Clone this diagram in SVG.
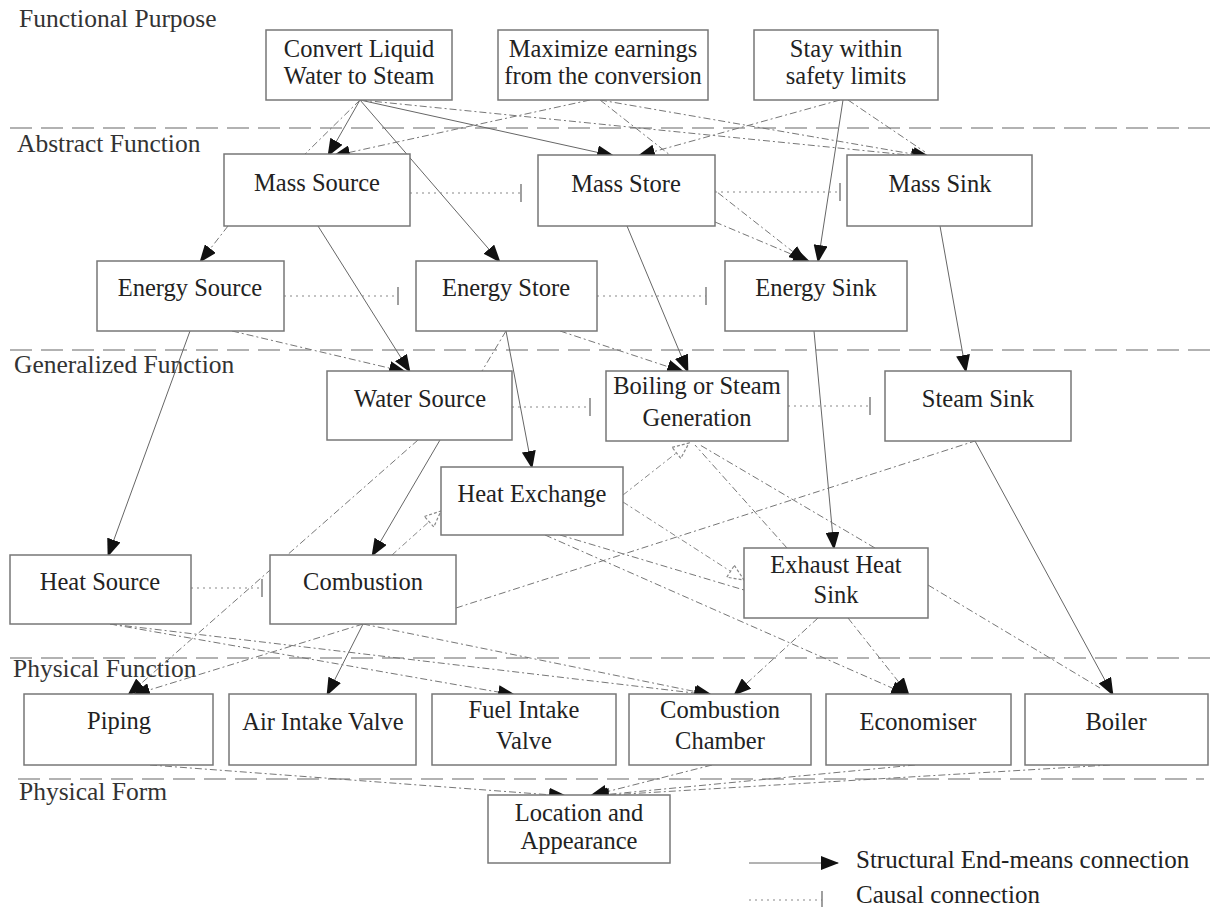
<svg xmlns="http://www.w3.org/2000/svg" width="1214" height="907" viewBox="0 0 1214 907">
<style>
.box{fill:#fff;stroke:#777;stroke-width:1.5}
.t{font-family:"Liberation Serif","Times New Roman",serif;font-size:24.5px;fill:#222;text-anchor:middle}
.layer{font-family:"Liberation Serif","Times New Roman",serif;font-size:25.5px;fill:#333}
.leg{font-family:"Liberation Serif","Times New Roman",serif;font-size:25px;fill:#222}
.sep{stroke:#999;stroke-width:1.4;stroke-dasharray:22 9;fill:none}
.s{stroke:#666;stroke-width:1;fill:none;marker-end:url(#arr)}
.sd{stroke:#777;stroke-width:1;fill:none;stroke-dasharray:7 3 2 3;marker-end:url(#arr)}
.p{stroke:#777;stroke-width:1;fill:none;stroke-dasharray:7 3 2 3}
.c{stroke:#888;stroke-width:1.2;fill:none;stroke-dasharray:2 4;marker-end:url(#bar)}
.h{stroke:#888;stroke-width:1;fill:none;stroke-dasharray:6 3 2 3;marker-end:url(#hol)}
</style>
<defs>
<marker id="arr" viewBox="0 0 18 14" refX="17" refY="7" markerWidth="18" markerHeight="14" orient="auto" markerUnits="userSpaceOnUse"><path d="M0,0 L18,7 L0,14 z" fill="#111"/></marker>
<marker id="bar" viewBox="0 0 4 18" refX="2" refY="9" markerWidth="4" markerHeight="18" orient="auto" markerUnits="userSpaceOnUse"><path d="M2,0 L2,18" stroke="#777" stroke-width="1.4"/></marker>
<marker id="hol" viewBox="0 0 18 16" refX="17" refY="8" markerWidth="18" markerHeight="16" orient="auto" markerUnits="userSpaceOnUse"><path d="M1,1 L17,8 L1,15 z" fill="#fff" stroke="#888" stroke-width="1.2" stroke-dasharray="3 2"/></marker>
</defs>
<rect width="1214" height="907" fill="#fff"/>
<g id="layers">
<path class="sep" d="M10,128 H1214 M10,350 H1214 M10,658 H1214 M18,779 H1204"/>
<text class="layer" x="19" y="27">Functional Purpose</text>
<text class="layer" x="17" y="152">Abstract Function</text>
<text class="layer" x="14" y="373">Generalized Function</text>
<text class="layer" x="13" y="677">Physical Function</text>
<text class="layer" x="19" y="800">Physical Form</text>
</g>
<g id="connectors">
<path class="s" d="M360,100 L328,156"/>
<path class="sd" d="M590,100 L333,156"/>
<path class="s" d="M360,100 L614,156"/>
<path class="sd" d="M840,100 L638,156"/>
<path class="sd" d="M360,100 L928,157"/>
<path class="sd" d="M600,100 L930,157"/>
<path class="p" d="M848,100 L925,152"/>
<path class="s" d="M360,100 L500,262"/>
<path class="sd" d="M228,226 L200,262"/>
<path class="s" d="M318,226 L410,372"/>
<path class="sd" d="M232,331 L406,372"/>
<path class="s" d="M190,331 L108,556"/>
<path class="s" d="M506,331 L532,468"/>
<path class="s" d="M627,226 L688,372"/>
<path class="sd" d="M560,331 L684,372"/>
<path class="s" d="M843,100 L818,262"/>
<path class="sd" d="M715,222 L810,262"/>
<path class="sd" d="M600,100 L806,262"/>
<path class="s" d="M940,226 L966,372"/>
<path class="s" d="M814,331 L834,549"/>
<path class="s" d="M440,440 L372,556"/>
<path class="sd" d="M418,440 L128,695"/>
<path class="sd" d="M363,624 L133,695"/>
<path class="s" d="M363,624 L327,695"/>
<path class="sd" d="M110,624 L515,695"/>
<path class="sd" d="M110,624 L711,695"/>
<path class="sd" d="M363,624 L712,695"/>
<path class="sd" d="M818,618 L734,695"/>
<path class="sd" d="M545,535 L908,695"/>
<path class="sd" d="M848,618 L909,695"/>
<path class="s" d="M975,441 L1113,695"/>
<path class="p" d="M928,585 L1100,688"/>
<path class="sd" d="M150,765 L566,796"/>
<path class="sd" d="M712,765 L590,796"/>
<path class="sd" d="M915,765 L591,796"/>
<path class="sd" d="M1110,765 L592,796"/>
<path class="p" d="M360,100 L305,154"/>
<path class="p" d="M506,331 L482,371"/>
<path class="p" d="M456,608 L975,441"/>
<path class="h" d="M392,555 L441,511"/>
<path class="h" d="M623,495 L689,443"/>
<path class="p" d="M787,548 L695,445"/>
<path class="p" d="M875,548 L700,445"/>
<path class="h" d="M623,502 L744,580"/>
<path class="p" d="M560,535 L744,590"/>
<path class="c" d="M410,193 L521,193"/>
<path class="c" d="M715,192 L840,192"/>
<path class="c" d="M284,296 L398,296"/>
<path class="c" d="M597,296 L706,296"/>
<path class="c" d="M512,407 L590,407"/>
<path class="c" d="M788,406 L870,406"/>
<path class="c" d="M191,588 L262,588"/>
</g>
<g id="n-convert"><rect class="box" x="266" y="30" width="186" height="70"/><text class="t" x="359" y="57">Convert Liquid</text><text class="t" x="359" y="84">Water to Steam</text></g>
<g id="n-maximize"><rect class="box" x="498" y="30" width="210" height="70"/><text class="t" x="603" y="57">Maximize earnings</text><text class="t" x="603" y="84">from the conversion</text></g>
<g id="n-stay"><rect class="box" x="754" y="30" width="184" height="70"/><text class="t" x="846" y="57">Stay within</text><text class="t" x="846" y="84">safety limits</text></g>
<g id="n-masssource"><rect class="box" x="224" y="154" width="186" height="72"/><text class="t" x="317" y="191">Mass Source</text></g>
<g id="n-massstore"><rect class="box" x="538" y="155" width="177" height="71"/><text class="t" x="626" y="192">Mass Store</text></g>
<g id="n-masssink"><rect class="box" x="847" y="155" width="185" height="71"/><text class="t" x="940" y="192">Mass Sink</text></g>
<g id="n-energysource"><rect class="box" x="97" y="261" width="187" height="70"/><text class="t" x="190" y="296">Energy Source</text></g>
<g id="n-energystore"><rect class="box" x="416" y="261" width="181" height="70"/><text class="t" x="506" y="296">Energy Store</text></g>
<g id="n-energysink"><rect class="box" x="725" y="261" width="182" height="70"/><text class="t" x="816" y="296">Energy Sink</text></g>
<g id="n-watersource"><rect class="box" x="327" y="371" width="185" height="69"/><text class="t" x="420" y="407">Water Source</text></g>
<g id="n-boiling"><rect class="box" x="606" y="371" width="182" height="70"/><text class="t" x="697" y="394">Boiling or Steam</text><text class="t" x="697" y="426">Generation</text></g>
<g id="n-steamsink"><rect class="box" x="885" y="371" width="186" height="70"/><text class="t" x="978" y="407">Steam Sink</text></g>
<g id="n-heatexchange"><rect class="box" x="441" y="467" width="182" height="68"/><text class="t" x="532" y="502">Heat Exchange</text></g>
<g id="n-heatsource"><rect class="box" x="10" y="555" width="181" height="69"/><text class="t" x="100" y="590">Heat Source</text></g>
<g id="n-combustion"><rect class="box" x="270" y="555" width="186" height="69"/><text class="t" x="363" y="590">Combustion</text></g>
<g id="n-exhaust"><rect class="box" x="744" y="548" width="184" height="70"/><text class="t" x="836" y="573">Exhaust Heat</text><text class="t" x="836" y="603">Sink</text></g>
<g id="n-piping"><rect class="box" x="24" y="694" width="189" height="71"/><text class="t" x="119" y="729">Piping</text></g>
<g id="n-airintake"><rect class="box" x="229" y="694" width="187" height="71"/><text class="t" x="323" y="730">Air Intake Valve</text></g>
<g id="n-fuelintake"><rect class="box" x="432" y="694" width="184" height="71"/><text class="t" x="524" y="718">Fuel Intake</text><text class="t" x="524" y="749">Valve</text></g>
<g id="n-combchamber"><rect class="box" x="629" y="694" width="182" height="71"/><text class="t" x="720" y="718">Combustion</text><text class="t" x="720" y="749">Chamber</text></g>
<g id="n-economiser"><rect class="box" x="826" y="694" width="185" height="71"/><text class="t" x="918" y="730">Economiser</text></g>
<g id="n-boiler"><rect class="box" x="1025" y="694" width="183" height="71"/><text class="t" x="1116" y="730">Boiler</text></g>
<g id="n-location"><rect class="box" x="488" y="795" width="182" height="68"/><text class="t" x="579" y="821">Location and</text><text class="t" x="579" y="849">Appearance</text></g>
<g id="legend">
<path class="s" d="M749,863 L838,863"/>
<path class="c" d="M749,900 L822,900"/>
<text class="leg" x="856" y="868">Structural End-means connection</text>
<text class="leg" x="856" y="903">Causal connection</text>
</g>
</svg>
